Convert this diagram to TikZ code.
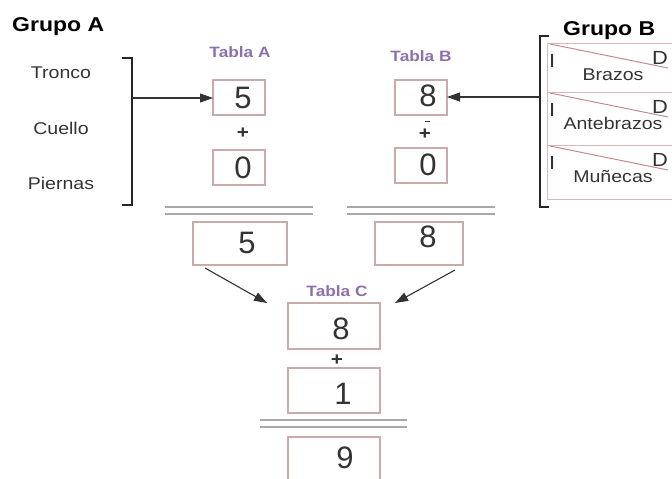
\documentclass[tikz,border=0pt]{standalone}
\usepackage{fontspec}
\setmainfont[FakeStretch=1.15]{Liberation Sans}
\newfontfamily\digitfont{Liberation Sans}
\usetikzlibrary{arrows.meta}
\definecolor{boxline}{HTML}{C9ABAB}
\definecolor{rule}{HTML}{A8A8A8}
\definecolor{tabla}{HTML}{8C70AC}
\definecolor{ink}{HTML}{333333}
\definecolor{slash}{HTML}{C48A8A}
\definecolor{rowline}{HTML}{D8B8B8}
\tikzset{
  x=1pt, y=-1pt,
  group/.style={font=\fontsize{20}{22}\selectfont\bfseries, text=black, inner sep=0pt, anchor=base west},
  part/.style={font=\fontsize{17}{19}\selectfont, text=ink, inner sep=0pt},
  tabla/.style={font=\fontsize{15}{17}\selectfont\bfseries, text=tabla, inner sep=0pt},
  numbox/.style={draw=boxline, line width=1.3pt, fill=white},
  digit/.style={font=\digitfont\fontsize{31}{33}\selectfont, text=ink, inner sep=0pt},
  plus/.style={font=\fontsize{18}{20}\selectfont\bfseries, text=ink, inner sep=0pt},
  sumrule/.style={draw=rule, line width=1.6pt},
  bracket/.style={draw=black!85, line width=2pt},
  link/.style={draw=black!80, line width=1.1pt, -{Triangle[length=13pt,width=9pt]}},
  side/.style={font=\fontsize{19}{21}\selectfont, text=ink, inner sep=0pt},
}
\begin{document}
\begin{tikzpicture}
\useasboundingbox (0,0) rectangle (672,479);

% ---- Grupo A ----
\node[group] (gA) at (12,31) {Grupo A};
\node[part] (tronco) at (61,73) {Tronco};
\node[part] (cuello) at (61,128) {Cuello};
\node[part] (piernas) at (61,183) {Piernas};
\draw[bracket] (122,58) -- (132,58) -- (132,205) -- (122,205);
\coordinate (brA) at (132,98);

% ---- Tabla A ----
\node[tabla] (tA) at (240,52) {Tabla A};
\draw[numbox] (213,80) rectangle (265,115);
\node[digit] (a1) at (243,98) {5};
\coordinate (a1in) at (213,98);
\node[plus] (pA) at (243,133) {+};
\draw[numbox] (213,150) rectangle (265,185);
\node[digit] (a2) at (243,168) {0};
\draw[sumrule] (165,207) -- (313,207);
\draw[sumrule] (165,214) -- (313,214);
\draw[numbox] (193,222) rectangle (287,265);
\node[digit] (a3) at (247,243) {5};

% ---- Tabla B ----
\node[tabla] (tB) at (421,56) {Tabla B};
\draw[numbox] (395,80) rectangle (447,115);
\node[digit] (b1) at (428,96) {8};
\coordinate (b1in) at (447,97);
\draw[ink, line width=1pt] (425,121) -- (430,121);
\node[plus] (pB) at (425,134) {+};
\draw[numbox] (395,148) rectangle (447,183);
\node[digit] (b2) at (428,165) {0};
\draw[sumrule] (347,207) -- (495,207);
\draw[sumrule] (347,214) -- (495,214);
\draw[numbox] (375,222) rectangle (463,265);
\node[digit] (b3) at (428,237) {8};

% ---- Grupo B ----
\node[group] (gB) at (563,35) {Grupo B};
\foreach \t/\name/\lbl in {43/brazos/Brazos, 92/ante/Antebrazos, 145/munecas/Muñecas}{
  \draw[rowline, line width=1pt] (547,\t) -- (672,\t);
  \draw[slash, line width=1pt] (550,\t+1) -- (668,\t+25);
  \node[side, anchor=base west] at (549,\t+24) {I};
  \node[side, anchor=base] at (660,\t+21) {D};
  \node[part, anchor=base] (\name) at (613,\t+37) {\lbl};
}
\draw[rowline, line width=1pt] (547,199) -- (672,199);
\draw[rowline, line width=1pt] (547,43) -- (547,199);
\draw[bracket] (549,36) -- (540,36) -- (540,207) -- (549,207);
\coordinate (brB) at (540,97);

% ---- Tabla C ----
\node[tabla] (tC) at (337,291) {Tabla C};
\draw[numbox] (288,303) rectangle (380,349);
\node[digit] (c1) at (341,329) {8};
\node[plus] (pC) at (337,360) {+};
\draw[numbox] (288,368) rectangle (380,413);
\node[digit] (c2) at (343,394) {1};
\draw[sumrule] (260,420) -- (407,420);
\draw[sumrule] (260,427) -- (407,427);
\draw[numbox] (288,437) rectangle (380,485);
\node[digit] (c3) at (345,458) {9};

% ---- connectors ----
\coordinate (fromA) at (205,268);
\coordinate (toCl) at (267,303);
\coordinate (fromB) at (455,270);
\coordinate (toCr) at (395,303);
\draw[link] (brA) -- (a1in);
\draw[link] (brB) -- (b1in);
\draw[link] (fromA) -- (toCl);
\draw[link] (fromB) -- (toCr);
\end{tikzpicture}
\end{document}
